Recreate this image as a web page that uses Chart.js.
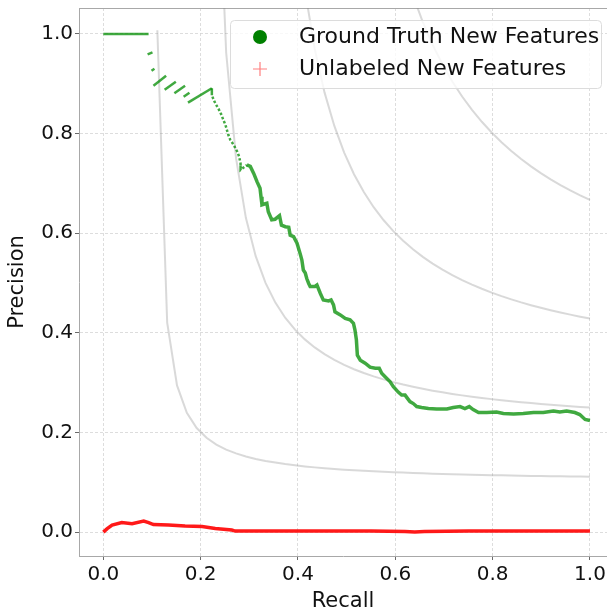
<!DOCTYPE html>
<html>
<head>
<meta charset="utf-8">
<script src="https://cdn.jsdelivr.net/npm/chart.js@4/dist/chart.umd.min.js"></script>
<style>
    html, body { margin: 0; padding: 0; background: #fff; }
    #wrap { position: relative; width: 607px; height: 612px; }
</style>
</head>
<body>
<div id="wrap"><canvas id="prChart"></canvas></div>
<script>
'use strict';

// Ground truth new features (precision / recall)
const gtRecall = [
    0.0, 0.093, null,
    0.091, 0.101, null,
    0.099, 0.105, null,
    0.103, 0.129, null,
    0.126, 0.149, null,
    0.146, 0.168, null,
    0.165, 0.177, null,
    0.174, 0.223,
    0.223, 0.227, 0.231, 0.237, 0.242, 0.246, 0.251, 0.254, 0.257, 0.261,
    0.268, 0.275, 0.279, 0.282, 0.282, 0.295, 0.302, 0.309, 0.316, 0.322,
    0.324, 0.326, 0.336, 0.339, 0.346, 0.353, 0.362, 0.366, 0.374, 0.381,
    0.384, 0.391, 0.398, 0.405, 0.408, 0.411, 0.415, 0.418, 0.422, 0.425,
    0.435, 0.439, 0.446, 0.452, 0.463, 0.468, 0.473, 0.476, 0.487, 0.497,
    0.507, 0.514, 0.517, 0.520, 0.522, 0.528, 0.538, 0.548, 0.559, 0.567,
    0.572, 0.579, 0.589, 0.596, 0.606, 0.613, 0.620, 0.630, 0.637, 0.644,
    0.654, 0.668, 0.685, 0.706, 0.719, 0.733, 0.743, 0.752, 0.760, 0.771,
    0.788, 0.808, 0.822, 0.843, 0.863, 0.884, 0.904, 0.925, 0.938, 0.952,
    0.969, 0.979, 0.990, 1.0
];
const gtPrecision = [
    1.0, 1.0, null,
    0.959, 0.963, null,
    0.926, 0.930, null,
    0.896, 0.916, null,
    0.888, 0.904, null,
    0.881, 0.896, null,
    0.874, 0.882, null,
    0.862, 0.891,
    0.877, 0.867, 0.859, 0.849, 0.839, 0.829, 0.817, 0.807, 0.797, 0.787,
    0.777, 0.764, 0.754, 0.740, 0.727, 0.737, 0.734, 0.720, 0.703, 0.690,
    0.673, 0.657, 0.660, 0.643, 0.627, 0.628, 0.635, 0.616, 0.613, 0.612,
    0.596, 0.593, 0.580, 0.557, 0.546, 0.526, 0.520, 0.509, 0.499, 0.493,
    0.493, 0.496, 0.479, 0.466, 0.464, 0.466, 0.456, 0.442, 0.436, 0.429,
    0.426, 0.419, 0.406, 0.386, 0.355, 0.345, 0.339, 0.331, 0.329, 0.329,
    0.319, 0.312, 0.302, 0.292, 0.281, 0.275, 0.275, 0.262, 0.258, 0.252,
    0.250, 0.248, 0.247, 0.247, 0.250, 0.252, 0.248, 0.252, 0.246, 0.240,
    0.240, 0.241, 0.238, 0.237, 0.238, 0.240, 0.240, 0.243, 0.241, 0.243,
    0.240, 0.236, 0.226, 0.224
];

// Unlabeled new features
const unRecall = [
    0.0, 0.008, 0.018, 0.038, 0.059, 0.083, 0.093, 0.103, 0.134, 0.168,
    0.203, 0.230, 0.264, 0.271, 0.35, 0.45, 0.55, 0.62, 0.64, 0.66,
    0.75, 0.85, 0.95, 1.0
];
const unPrecision = [
    0.0, 0.007, 0.014, 0.019, 0.017, 0.022, 0.019, 0.015, 0.014, 0.012,
    0.011, 0.007, 0.004, 0.002, 0.002, 0.002, 0.002, 0.001, 0.0, 0.001,
    0.002, 0.002, 0.002, 0.002
];

// iso-F1 reference curves (f = 0.2, 0.4, 0.6, 0.8), recall grid shared
const isoRecall = [
    0.1110, 0.1312, 0.1514, 0.1716, 0.1918, 0.2120, 0.2322, 0.2524, 0.2727, 0.2929,
    0.3131, 0.3333, 0.3535, 0.3737, 0.3939, 0.4141, 0.4343, 0.4545, 0.4747, 0.4949,
    0.5151, 0.5353, 0.5555, 0.5757, 0.5959, 0.6161, 0.6363, 0.6565, 0.6767, 0.6969,
    0.7171, 0.7373, 0.7576, 0.7778, 0.7980, 0.8182, 0.8384, 0.8586, 0.8788, 0.8990,
    0.9192, 0.9394, 0.9596, 0.9798, 1.0
];
const isoF02 = [
    1.0074, 0.4203, 0.2944, 0.2396, 0.2089, 0.1893, 0.1756, 0.1656, 0.1579, 0.1518,
    0.1469, 0.1429, 0.1395, 0.1365, 0.1340, 0.1318, 0.1299, 0.1282, 0.1267, 0.1253,
    0.1241, 0.1230, 0.1220, 0.1210, 0.1202, 0.1194, 0.1186, 0.1180, 0.1173, 0.1168,
    0.1162, 0.1157, 0.1152, 0.1148, 0.1143, 0.1139, 0.1135, 0.1132, 0.1128, 0.1125,
    0.1122, 0.1119, 0.1116, 0.1114, 0.1111
];
const isoF04 = [
    3.522, 1.4407, 0.9626, 0.7506, 0.6308, 0.5538, 0.5001, 0.4606, 0.4303, 0.4063,
    0.3868, 0.3707, 0.3572, 0.3456, 0.3356, 0.3269, 0.3193, 0.3125, 0.3065, 0.3010,
    0.2961, 0.2917, 0.2876, 0.2839, 0.2805, 0.2774, 0.2744, 0.2717, 0.2692, 0.2669,
    0.2647, 0.2627, 0.2607, 0.2589, 0.2572, 0.2556, 0.2541, 0.2527, 0.2513, 0.25
];
const isoF06 = [
    7.191, 3.005, 1.9832, 1.5217, 1.2587, 1.0889, 0.9702, 0.8826, 0.8152, 0.7618,
    0.7184, 0.6825, 0.6522, 0.6264, 0.6041, 0.5847, 0.5676, 0.5524, 0.5389, 0.5267,
    0.5158, 0.5058, 0.4967, 0.4884, 0.4807, 0.4737, 0.4672, 0.4611, 0.4555, 0.4503,
    0.4454, 0.4408, 0.4365, 0.4324, 0.4286
];
const isoF08 = [
    11.76, 5.066, 3.336, 2.542, 2.086, 1.790, 1.5825, 1.4289, 1.3106, 1.2167,
    1.1403, 1.0770, 1.0237, 0.9782, 0.9388, 0.9045, 0.8743, 0.8475, 0.8236, 0.8021,
    0.7826, 0.7650, 0.7489, 0.7342, 0.7207, 0.7082, 0.6966, 0.6859, 0.6760, 0.6667
];

const xTickValues = [0.0, 0.2, 0.4, 0.6, 0.8, 1.0];
const yTickValues = [0.0, 0.2, 0.4, 0.6, 0.8, 1.0];

const FONT = "'DejaVu Sans', 'Liberation Sans', sans-serif";
let prChart;


function toPoints(xs, ys) {
    return xs.map((x, i) => ({ x: x, y: ys[i] }));
}

function isoPoints(ys) {
    const xs = isoRecall.slice(isoRecall.length - ys.length);
    return toPoints(xs, ys);
}

function isoDataset(ys) {
    return {
        label: '',
        data: isoPoints(ys),
        showLine: true,
        borderColor: 'rgba(128,128,128,0.3)',
        borderWidth: 2,
        pointRadius: 0
    };
}

// no extra room for edge labels, the frame is fixed
function fixPadding(s) {
    s.paddingTop = 0;
    s.paddingBottom = 0;
    s.paddingLeft = 0;
    s.paddingRight = 0;
}

// sparse start of the curve is thinner, the dense part thicker
function gtWidth(seg) {
    return seg.p0.parsed.x < 0.285 ? 2.5 : 3.5;
}
function gtDash(seg) {
    const x = seg.p0.parsed.x;
    return (x >= 0.223 && x < 0.285) ? [2.5, 2] : [];
}


// top spine (matplotlib style frame)
const topSpine = {
    id: 'topSpine',
    beforeDatasetsDraw(chart) {
        const { ctx, chartArea } = chart;
        ctx.save();
        ctx.strokeStyle = '#a8a8a8';
        ctx.lineWidth = 1;
        ctx.beginPath();
        ctx.moveTo(chartArea.left, chartArea.top + 0.5);
        ctx.lineTo(chartArea.right, chartArea.top + 0.5);
        ctx.stroke();
        ctx.restore();
    }
};

// legend in the top-right corner, with a framed box
const cornerLegend = {
    id: 'cornerLegend',
    afterDatasetsDraw(chart) {
        const { ctx, chartArea } = chart;
        const ds = chart.data.datasets;
        const boxX = 230, boxY = 20, boxW = chartArea.right - 6 - boxX, boxH = 68;

        ctx.save();
        ctx.fillStyle = 'rgba(255,255,255,0.8)';
        ctx.strokeStyle = '#dcdcdc';
        ctx.lineWidth = 1;
        ctx.beginPath();
        ctx.roundRect(boxX + 0.5, boxY + 0.5, boxW, boxH, 4);
        ctx.fill();
        ctx.stroke();

        // circle marker
        ctx.fillStyle = '#008000';
        ctx.beginPath();
        ctx.arc(260, 37, 7, 0, Math.PI * 2);
        ctx.fill();

        // plus marker
        ctx.strokeStyle = 'rgba(255,0,0,0.5)';
        ctx.lineWidth = 1.2;
        ctx.beginPath();
        ctx.moveTo(253, 69); ctx.lineTo(267, 69);
        ctx.moveTo(260, 62); ctx.lineTo(260, 76);
        ctx.stroke();

        ctx.fillStyle = '#111';
        ctx.font = '22px ' + FONT;
        ctx.textBaseline = 'middle';
        ctx.textAlign = 'left';
        ctx.fillText(ds[0].label, 299, 37);
        ctx.fillText(ds[1].label, 299, 69);
        ctx.restore();
    }
};


function renderChart() {
    const ctx = document.getElementById('prChart').getContext('2d');

    Chart.defaults.font.family = FONT;
    Chart.defaults.color = '#111';

    const tickCallback = v => Number(v).toFixed(1);

    prChart = new Chart(ctx, {
        type: 'scatter',
        data: {
            datasets: [
                {
                    label: 'Ground Truth New Features',
                    data: toPoints(gtRecall, gtPrecision),
                    showLine: true,
                    spanGaps: false,
                    borderColor: 'rgba(0,140,0,0.75)',
                    borderWidth: 3.5,
                    segment: { borderWidth: gtWidth, borderDash: gtDash },
                    pointRadius: 0
                },
                {
                    label: 'Unlabeled New Features',
                    data: toPoints(unRecall, unPrecision),
                    showLine: true,
                    borderColor: 'rgba(255,0,0,0.9)',
                    borderWidth: 3.5,
                    pointRadius: 0
                },
                isoDataset(isoF02),
                isoDataset(isoF04),
                isoDataset(isoF06),
                isoDataset(isoF08)
            ]
        },
        options: {
            responsive: true,
            maintainAspectRatio: false,
            animation: false,
            events: [],
            layout: { padding: { top: 8, right: 0, left: 0, bottom: 0 } },
            plugins: {
                legend: { display: false },
                tooltip: { enabled: false }
            },
            scales: {
                x: {
                    type: 'linear',
                    min: -0.05,
                    max: 1.035,
                    afterBuildTicks: s => { s.ticks = xTickValues.map(v => ({ value: v })); },
                    afterFit: s => { s.height = 56; fixPadding(s); },
                    ticks: { callback: tickCallback, font: { size: 20 }, padding: 3, maxRotation: 0 },
                    grid: { color: '#d4d4d4', lineWidth: 0.8, tickColor: '#444', tickLength: 4 },
                    border: { color: '#a8a8a8', width: 1, dash: [3, 2] },
                    title: { display: true, text: 'Recall', font: { size: 21 }, padding: { top: 0, bottom: -2 } }
                },
                y: {
                    type: 'linear',
                    min: -0.048,
                    max: 1.052,
                    afterBuildTicks: s => { s.ticks = yTickValues.map(v => ({ value: v })); },
                    afterFit: s => { s.width = 79; fixPadding(s); },
                    ticks: { callback: tickCallback, font: { size: 20 }, padding: 2 },
                    grid: { color: '#d4d4d4', lineWidth: 0.8, tickColor: '#444', tickLength: 4 },
                    border: { color: '#a8a8a8', width: 1, dash: [3, 2] },
                    title: { display: true, text: 'Precision', font: { size: 21 }, padding: { top: 5, bottom: 0 } }
                }
            }
        },
        plugins: [topSpine, cornerLegend]
    });
}


document.addEventListener('DOMContentLoaded', () => {
    renderChart();
});
</script>
</body>
</html>
